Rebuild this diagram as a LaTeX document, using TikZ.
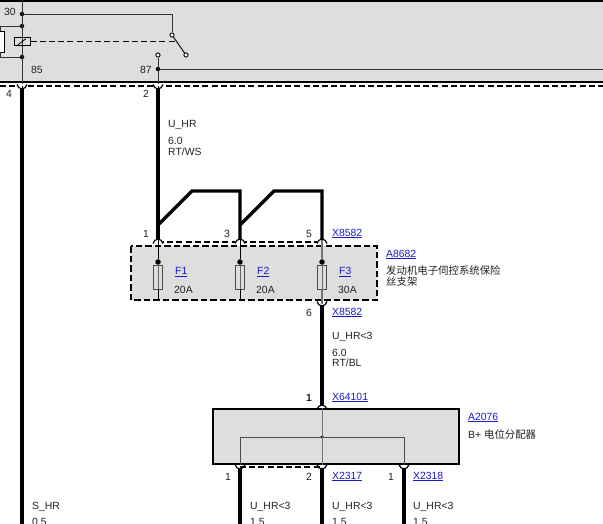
\documentclass[tikz,border=0pt]{standalone}
\usepackage{fontspec}
\setmainfont{Liberation Sans}
\newfontfamily\cjk{Noto Sans CJK SC}
\definecolor{boxgray}{HTML}{DEDEDE}
\definecolor{linkblue}{HTML}{1A1AC8}
\definecolor{txtgray}{HTML}{222222}
\tikzset{
  wire/.style={line width=3.3pt,black},
  thin wire/.style={line width=0.9pt,black!80},
  box edge/.style={line width=2.2pt,black},
  dash edge/.style={line width=1.3pt,black,dash pattern=on 6pt off 3.2pt},
  carrier edge/.style={line width=2pt,black,dash pattern=on 6.5pt off 3pt},
  label/.style={anchor=west,inner sep=0pt,text=txtgray,font=\fontsize{10.4}{12}\selectfont},
  pinno/.style={inner sep=0pt,text=txtgray,font=\fontsize{10.4}{12}\selectfont},
  link/.style={anchor=west,inner sep=0pt,text=linkblue,font=\fontsize{10.4}{12}\selectfont},
  dot/.style={circle,fill=black,inner sep=0pt,minimum size=4.5pt},
  contact/.style={circle,draw=black,fill=white,line width=0.9pt,inner sep=0pt,minimum size=4.2pt},
  fusebody/.style={draw=black!70,line width=0.9pt,fill=boxgray,inner sep=0pt,minimum width=8.5pt,minimum height=24pt}
}
\newcommand{\pincup}[2]{\draw[line width=1.2pt,black] (#1-5,#2-1.5) to[out=-70,in=180] (#1,#2+3) to[out=0,in=-110] (#1+5,#2-1.5);}
\newcommand{\pincap}[2]{\draw[line width=1.2pt,black] (#1-5,#2+1.5) to[out=70,in=180] (#1,#2-3) to[out=0,in=110] (#1+5,#2+1.5);}
\begin{document}
\begin{tikzpicture}[x=1pt,y=-1pt]
     \clip (0,0) rectangle (603,524);
     \fill[white] (0,0) rectangle (603,524);

     % relay housing
     \fill[boxgray] (0,1) rectangle (603,82);
     \draw[box edge] (0,1) -- (603,1);
     \draw[box edge] (0,82) -- (603,82);
     \draw[dash edge] (0,86) -- (603,86);

     \path (22,14) node[dot] (r30) {};
     \path (22,26) node[dot] (rtop) {};
     \path (22,57) node[dot] (rbot) {};
     \path (158,69) node[dot] (r87) {};
     \path (172,35) node[contact] (swa) {};
     \path (186,55) node[contact] (swb) {};
     \path (158,55) node[contact] (swc) {};
     \path (22,41.5) node[draw=black,line width=1pt,fill=boxgray,minimum width=16pt,minimum height=7.5pt,inner sep=0pt] (coil) {};
     \path (1,41.5) node[draw=black,line width=0.9pt,fill=white,minimum width=8pt,minimum height=21pt,inner sep=0pt,anchor=east,xshift=4pt] (res) {};
     \coordinate (rt) at (22,0);
     \coordinate (p4) at (22,86);
     \coordinate (p2) at (158,86);
     \coordinate (r87end) at (603,69);

     \draw[thin wire] (rt) -- (p4);
     \draw[thin wire] (r30) -| (swa);
     \draw[thin wire] (rtop) -| (res.north);
     \draw[thin wire] (rbot) -| (res.south);
     \draw[thin wire] (swc) -- (p2);
     \draw[thin wire] (r87) -- (r87end);
     \draw[thin wire,black] (swa) -- (swb);
     \draw[dash edge] (coil.east) -- (176,41.5);
     \draw[line width=0.8pt] (coil.south) ++(-4,-1) -- ++(8,-6);
     \path (22,41.5) node[draw=black,line width=1pt,minimum width=16pt,minimum height=7.5pt,inner sep=0pt] {};

     \path (10,12) node[pinno] (t30) {30};
     \path (37,70) node[pinno] (t85) {85};
     \path (146,70) node[pinno] (t87) {87};
     \path (9,94) node[pinno] (t4) {4};
     \path (146,94) node[pinno] (t2) {2};

     % fuse carrier
     \draw[carrier edge,fill=boxgray] (131,246) rectangle (377,300);
     \draw[dash edge] (158,242) -- (322,242);

     \path (158,277) node[fusebody] (f1) {};
     \path (240,277) node[fusebody] (f2) {};
     \path (322,277) node[fusebody] (f3) {};
     \path (158,262) node[dot,minimum size=5.5pt] (d1) {};
     \path (240,262) node[dot,minimum size=5.5pt] (d2) {};
     \path (322,262) node[dot,minimum size=5.5pt] (d3) {};

     \coordinate (a1) at (158,242);
     \coordinate (a2) at (240,242);
     \coordinate (a3) at (322,242);
     \coordinate (b1) at (158,300);
     \coordinate (b2) at (240,300);
     \coordinate (b3) at (322,304);
     \draw[thin wire,black] (a1) -- (d1);
     \draw[thin wire,black] (a2) -- (d2);
     \draw[line width=1.1pt,black!55] (a3) -- (d3);
     \draw[thin wire,black] (f1.south) -- (b1);
     \draw[thin wire,black] (f2.south) -- (b2);
     \draw[line width=1.1pt,black!55] (f3.south) -- (b3);
     \draw[line width=1pt,black!60] (f3.north) -- (f3.south);
     \draw[line width=0.7pt,black!60] (f1.north) -- (f1.south);
     \draw[line width=0.7pt,black!60] (f2.north) -- (f2.south);

     \path (175,272) node[link] (nf1) {\underline{F1}};
     \path (257,272) node[link] (nf2) {\underline{F2}};
     \path (339,272) node[link] (nf3) {\underline{F3}};
     \path (174,289.5) node[label] (af1) {20A};
     \path (256,289.5) node[label] (af2) {20A};
     \path (338,289.5) node[label] (af3) {30A};

     \path (146,234) node[pinno] (t1) {1};
     \path (227,234) node[pinno] (t3) {3};
     \path (309,234) node[pinno] (t5) {5};
     \path (309,312.5) node[pinno] (t6) {6};
     \path (332,233.5) node[link] (x1) {\underline{X8582}};
     \path (332,312.5) node[link] (x2) {\underline{X8582}};
     \path (386,254.5) node[link] (a8682) {\underline{A8682}};
     \path (386,271) node[label] (c1) {\cjk 发动机电子伺控系统保险};
     \path (386,282) node[label] (c2) {\cjk 丝支架};

     % distributor
     \draw[box edge,fill=boxgray] (213,409) rectangle (459,464);
     \path (322,437) node[dot,minimum size=3.5pt] (dd) {};
     \coordinate (dl) at (240,437);
     \coordinate (dr) at (404,437);
     \coordinate (dt) at (322,408);
     \coordinate (dbl) at (240,465);
     \coordinate (dbm) at (322,465);
     \coordinate (dbr) at (404,465);
     \draw[line width=0.9pt,black!70] (dbl) |- (dr) -- (dbr);
     \draw[line width=1pt,black!55] (dt) -- (dbm);
     \draw[dash edge] (240,467) -- (322,467);

     \path (309,397.5) node[pinno,font=\fontsize{10.4}{12}\selectfont\bfseries] (t7) {1};
     \path (332,397.5) node[link] (x3) {\underline{X64101}};
     \path (468,417.5) node[link] (a2076) {\underline{A2076}};
     \path (468,434.5) node[label] (bp) {B+ {\cjk 电位分配器}};
     \path (228,476.5) node[pinno] (t8) {1};
     \path (309,476.5) node[pinno] (t9) {2};
     \path (391,476.5) node[pinno] (t10) {1};
     \path (332,476.5) node[link] (x4) {\underline{X2317}};
     \path (413,476.5) node[link] (x5) {\underline{X2318}};

     % thick wires
     \coordinate (w4) at (22,88);
     \coordinate (w4e) at (22,524);
     \coordinate (w2) at (158,88);
     \coordinate (j1) at (158,225);
     \coordinate (e1) at (158,239);
     \coordinate (j2) at (240,225);
     \coordinate (e2) at (240,239);
     \coordinate (k1) at (192,191);
     \coordinate (k2) at (240,191);
     \coordinate (k3) at (274,191);
     \coordinate (k4) at (322,191);
     \coordinate (e3) at (322,239);
     \coordinate (w6) at (322,306);
     \coordinate (w7) at (322,405);
     \draw[wire] (w4) -- (w4e);
     \draw[wire] (w2) -- (e1);
     \draw[wire,line join=miter] (j1) -- (k1) -- (k2) -- (e2);
     \draw[wire,line join=miter] (j2) -- (k3) -- (k4) -- (e3);
     \draw[wire] (w6) -- (w7);
     \draw[wire] (240,469) -- (240,524);
     \draw[wire] (322,469) -- (322,524);
     \draw[wire] (404,469) -- (404,524);

     % connector pins
     \fill[white] (17,84.5) rectangle (27,88);
     \fill[white] (153,84.5) rectangle (163,88);
     \fill[white] (153,240) rectangle (163,244);
     \fill[white] (235,240) rectangle (245,244);
     \fill[white] (317,240) rectangle (327,244);
     \draw[thin wire,black] (p4) -- (22,88);
     \draw[thin wire,black] (p2) -- (158,88);
     \draw[thin wire,black] (158,239) -- (158,246);
     \draw[thin wire,black] (240,239) -- (240,246);
     \draw[line width=1.1pt,black!55] (322,239) -- (322,246);
     \pincup{22}{86}
     \pincup{158}{86}
     \pincap{158}{242}
     \pincap{240}{242}
     \pincap{322}{242}
     \pincup{322}{303}
     \pincap{322}{408}
     \pincup{240}{466}
     \pincup{322}{466}
     \pincup{404}{466}

     % wire data
     \path (168,124.5) node[label] (u1) {U\_HR};
     \path (168,140.5) node[label] (u2) {6.0};
     \path (168,151.5) node[label] (u3) {RT/WS};
     \path (332,336.5) node[label] (u4) {U\_HR<3};
     \path (332,352.5) node[label] (u5) {6.0};
     \path (332,362.5) node[label] (u6) {RT/BL};
     \path (32,506.5) node[label] (s1) {S\_HR};
     \path (32,522) node[label] (s2) {0.5};
     \path (250,506.5) node[label] (v1) {U\_HR<3};
     \path (332,506.5) node[label] (v2) {U\_HR<3};
     \path (413,506.5) node[label] (v3) {U\_HR<3};
     \path (250,522) node[label] (v4) {1.5};
     \path (332,522) node[label] (v5) {1.5};
     \path (413,522) node[label] (v6) {1.5};
\end{tikzpicture}
\end{document}
